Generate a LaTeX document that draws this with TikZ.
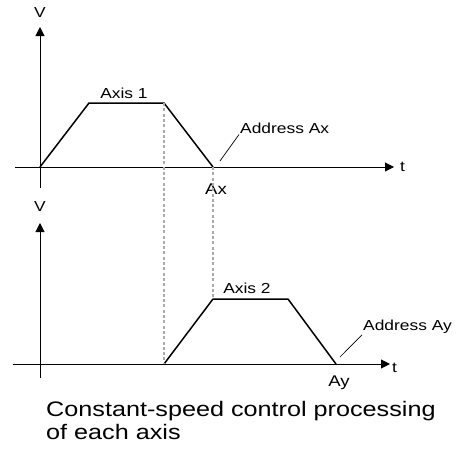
\documentclass[tikz,border=0pt]{standalone}
\usepackage{fontspec}
\setmainfont{Liberation Sans}[FakeStretch=1.2]
\usetikzlibrary{arrows.meta,positioning}
\definecolor{ink}{HTML}{000000}
\definecolor{guide}{HTML}{ABABAB}
\tikzset{
  axisline/.style={-{Triangle[length=9pt,width=9pt]},draw=ink,line width=1pt},
  speedline/.style={draw=ink,line width=1.5pt,line join=round},
  guideline/.style={draw=guide,line width=1.2pt,dash pattern=on 3pt off 2.3pt},
  leader/.style={draw=ink,line width=0.7pt},
  axislabel/.style={font=\fontsize{14.5}{16}\selectfont,inner sep=1pt},
  caption/.style={font=\fontsize{21}{22.3}\selectfont,align=left,inner sep=0pt}
}

\begin{document}
\begin{tikzpicture}[x=1pt,y=-1pt]
\useasboundingbox (0,0) rectangle (456,450);
% axis 1
\coordinate (v1bot) at (40,188);
\coordinate (v1top) at (40,27);
\coordinate (t1left) at (15,167);
\coordinate (t1right) at (394,167);
\draw[axisline] (v1bot) -- (v1top);
\draw[axisline] (t1left) -- (t1right);
\node[axislabel] (v1) at (40,13) {V};
\node[axislabel,right=5pt of t1right] (t1) {t};
\coordinate (s1) at (40,167);
\coordinate (a1) at (89,103);
\coordinate (b1) at (164,103);
\coordinate (e1) at (213,167);
\draw[speedline] (s1) -- (a1) -- (b1) -- (e1);
\node[axislabel] (axis1) at (124,93) {Axis 1};
\node[axislabel,font=\fontsize{15.5}{17}\selectfont] (ax) at (216,189) {Ax};
\node[axislabel,anchor=west] (addrx) at (239,128) {Address Ax};
\coordinate (lx) at (220,161);
\draw[leader] (lx) -- (addrx.south west);
% axis 2
\coordinate (v2bot) at (40,378);
\coordinate (v2top) at (40,223);
\coordinate (t2left) at (13,364);
\coordinate (t2right) at (390,364);
\draw[axisline] (v2bot) -- (v2top);
\draw[axisline] (t2left) -- (t2right);
\node[axislabel] (v2) at (40,207) {V};
\node[axislabel,right=1pt of t2right,yshift=-4pt] (t2) {t};
\coordinate (s2) at (164,364);
\coordinate (a2) at (213,299);
\coordinate (b2) at (288,299);
\coordinate (e2) at (336,364);
\draw[speedline] (s2) -- (a2) -- (b2) -- (e2);
\node[axislabel] (axis2) at (247,288) {Axis 2};
\node[axislabel,font=\fontsize{15.5}{17}\selectfont] (ay) at (339,383) {Ay};
\node[axislabel,anchor=west] (addry) at (362,327) {Address Ay};
\coordinate (ly) at (340,357);
\draw[leader] (ly) -- (addry.south west);
% dashed guides
\draw[guideline] (b1) -- (s2);
\draw[guideline] (e1) -- (a2);
\node[caption,anchor=north west] (cap) at (46,401.5) {Constant-speed control processing\\of each axis};
\end{tikzpicture}
\end{document}
